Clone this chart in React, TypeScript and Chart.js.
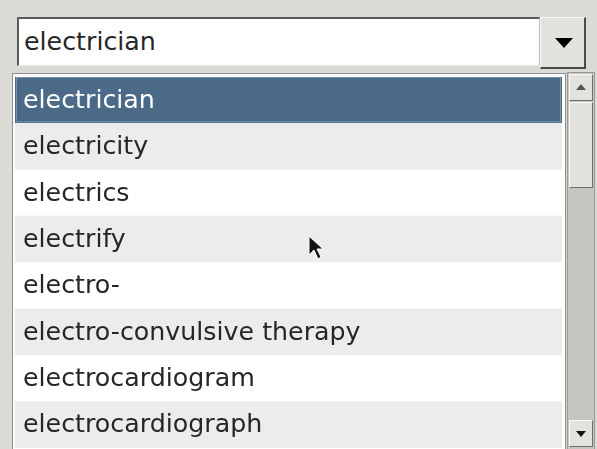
import React, { useEffect, useRef } from "react";
import { Chart, registerables } from "chart.js";

Chart.register(...registerables);

const items: string[] = [
  "electrician",
  "electricity",
  "electrics",
  "electrify",
  "electro-",
  "electro-convulsive therapy",
  "electrocardiogram",
  "electrocardiograph",
];
const rowValues: number[] = [1, 1, 1, 1, 1, 1, 1, 1];
const selectedIndex = 0;
const selectedText = "electrician";

const SEL_BG = "#4b6a88";
const ROW_A = "#ffffff";
const ROW_B = "#ececec";
const FONT = "'DejaVu Sans', sans-serif";
const FONT_SIZE = 25.3;

const rowLabelPlugin = {
  id: "rowLabels",
  afterDatasetsDraw(chart: any) {
    const meta = chart.getDatasetMeta(0);
    const yScale = chart.scales.y;
    const ctx = chart.ctx;
    ctx.save();
    ctx.font = `${FONT_SIZE}px ${FONT}`;
    ctx.textAlign = "left";
    ctx.textBaseline = "middle";
    items.forEach((label, i) => {
      const el = meta.data[i];
      const { base } = el.getProps(["base"], true);
      const y = yScale.getPixelForValue(i);
      ctx.fillStyle = i === selectedIndex ? "#ffffff" : "#262626";
      ctx.fillText(label, base + 8, y + 1);
    });
    // dotted focus rectangle around the selected row
    const sel = meta.data[selectedIndex];
    if (sel) {
      const { x, y, base, height } = sel.getProps(["x", "y", "base", "height"], true);
      ctx.strokeStyle = "#a9bccd";
      ctx.lineWidth = 1;
      ctx.setLineDash([1, 1]);
      ctx.strokeRect(base + 1.5, y - height / 2 + 0.5, x - base - 3, height - 2);
    }
    ctx.restore();
  },
};

export default function App() {
  const ref = useRef<HTMLCanvasElement | null>(null);
  useEffect(() => {
    if (!ref.current) return;
    const chart = new Chart(ref.current, {
      type: "bar",
      data: {
        labels: items,
        datasets: [
          {
            data: rowValues,
            backgroundColor: items.map((_, i) =>
              i === selectedIndex ? SEL_BG : i % 2 === 1 ? ROW_B : ROW_A
            ),
            borderWidth: 0,
            categoryPercentage: 1,
            barPercentage: 1,
          },
        ],
      },
      options: {
        indexAxis: "y",
        animation: false,
        responsive: false,
        maintainAspectRatio: false,
        layout: { padding: 0 },
        plugins: { legend: { display: false }, tooltip: { enabled: false } },
        scales: {
          x: { display: false, min: 0, max: 1 },
          y: { display: false, offset: true },
        },
      },
      plugins: [rowLabelPlugin],
    } as any);
    return () => chart.destroy();
  }, []);

  const bevelBtn: React.CSSProperties = {
    position: "absolute",
    background: "#e4e2de",
    borderTop: "1px solid #f8f8f6",
    borderLeft: "1px solid #f8f8f6",
    borderRight: "1px solid #6e6e6e",
    borderBottom: "1px solid #6e6e6e",
    boxSizing: "border-box",
  };

  return (
    <div
      style={{
        position: "fixed",
        left: 0,
        top: 0,
        width: 597,
        height: 449,
        background: "#dcdad5",
        overflow: "hidden",
        fontFamily: FONT,
      }}
    >
      {/* text entry */}
      <div
        style={{
          position: "absolute",
          left: 17,
          top: 17,
          width: 523,
          height: 49,
          background: "#ffffff",
          borderTop: "2px solid #5a5a5a",
          borderLeft: "2px solid #5a5a5a",
          borderRight: "1px solid #bdbbb6",
          borderBottom: "1px solid #e8e6e2",
          boxSizing: "border-box",
          fontSize: FONT_SIZE,
          lineHeight: "46px",
          paddingLeft: 5,
          color: "#262626",
        }}
      >
        {selectedText}
      </div>
      {/* dropdown button */}
      <div
        style={{
          ...bevelBtn,
          left: 540,
          top: 17,
          width: 46,
          height: 52,
          borderRight: "2px solid #4a4a4a",
          borderBottom: "2px solid #4a4a4a",
        }}
      >
        <svg width="44" height="50" style={{ position: "absolute", left: 0, top: 0 }}>
          <polygon points="14,20 32,20 23,30" fill="#000" />
        </svg>
      </div>
      {/* list frame */}
      <div
        style={{
          position: "absolute",
          left: 12,
          top: 73,
          width: 554,
          height: 390,
          background: "#ffffff",
          border: "1px solid #8f8f8f",
          boxSizing: "border-box",
        }}
      />
      <canvas
        ref={ref}
        width={547}
        height={371}
        style={{ position: "absolute", left: 15, top: 77, width: 547, height: 371 }}
      />
      {/* scrollbar */}
      <div
        style={{
          position: "absolute",
          left: 567,
          top: 72,
          width: 28,
          height: 378,
          background: "#c7c5c0",
          border: "1px solid #9a9893",
          boxSizing: "border-box",
        }}
      >
        <div style={{ ...bevelBtn, left: 1, top: 1, width: 24, height: 27 }}>
          <svg width="22" height="25" style={{ position: "absolute", left: 0, top: 0 }}>
            <polygon points="6,15 16,15 11,9" fill="#555" />
          </svg>
        </div>
        <div style={{ ...bevelBtn, left: 1, top: 29, width: 24, height: 86 }} />
        <div style={{ ...bevelBtn, left: 1, top: 347, width: 24, height: 27 }}>
          <svg width="22" height="25" style={{ position: "absolute", left: 0, top: 0 }}>
            <polygon points="6,10 16,10 11,16" fill="#111" />
          </svg>
        </div>
      </div>
      {/* mouse pointer */}
      <svg width="20" height="30" style={{ position: "absolute", left: 308, top: 235 }}>
        <polygon
          points="1,1 1,20 6,15 10,24 13,22 9,14 15,14"
          fill="#111"
          stroke="#fff"
          strokeWidth="1"
        />
      </svg>
    </div>
  );
}
